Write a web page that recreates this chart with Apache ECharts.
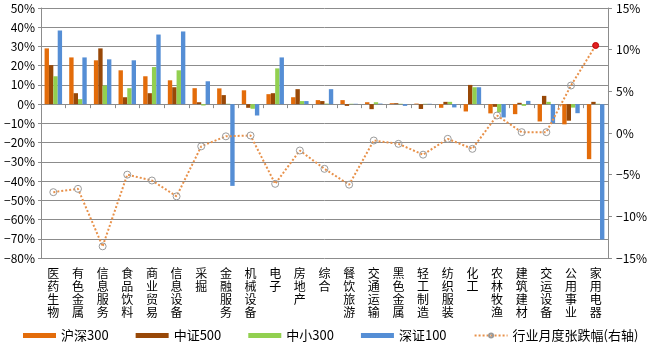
<!DOCTYPE html>
<html><head><meta charset="utf-8">
<script src="https://cdn.jsdelivr.net/npm/echarts@6/dist/echarts.min.js"></script>
<style>html,body{margin:0;padding:0;background:#fff}#c{width:650px;height:348px}</style>
</head><body><div id="c"></div>
<script>
const categories = ['医药生物','有色金属','信息服务','食品饮料','商业贸易','信息设备','采掘','金融服务','机械设备','电子','房地产','综合','餐饮旅游','交通运输','黑色金属','轻工制造','纺织服装','化工','农林牧渔','建筑建材','交运设备','公用事业','家用电器'];
const hs300 = [29.0, 24.3, 22.8, 17.6, 14.5, 12.4, 8.3, 8.2, 7.2, 5.2, 3.6, 2.1, 2.1, 1.0, 0.5, 0.3, -1.9, -3.8, -4.8, -5.2, -9.0, -10.5, -28.6];
const zz500 = [20.3, 5.7, 29.0, 3.6, 5.7, 8.8, 1.0, 4.7, -1.9, 5.7, 7.8, 1.6, -0.9, -2.6, 0.5, -2.5, 1.2, 10.0, -1.4, 0.7, 4.3, -8.6, 1.2];
const zx300 = [14.5, 2.6, 9.7, 8.3, 19.3, 17.6, -0.7, 0.2, -2.4, 18.6, 1.6, 0.3, 0.2, 1.0, 0.2, 0.2, 1.2, 8.8, -4.3, -0.9, 1.2, -1.8, 0.2];
const sz100 = [38.3, 24.3, 23.3, 22.8, 36.2, 37.8, 11.9, -42.5, -5.9, 24.3, 1.6, 7.8, 0.2, 0.3, -0.9, 0.2, -1.7, 8.8, -6.9, 1.7, -9.9, -4.7, -70.4];
const industry = [-7.1, -6.7, -13.6, -5.0, -5.7, -7.6, -1.6, -0.4, -0.3, -6.1, -2.1, -4.3, -6.2, -0.9, -1.3, -2.6, -0.7, -1.9, 2.1, 0.1, 0.1, 5.7, 10.5];
const seriesNames = ['沪深300','中证500','中小300','深证100','行业月度张跌幅(右轴)'];
const colors = ['#E36C0A','#984807','#92D050','#558ED5'];

const chart = echarts.init(document.getElementById('c'), null, {renderer:'canvas'});
const fontFam = '"Noto Sans CJK SC", "DejaVu Sans", sans-serif';
const pct = v => (v < 0 ? '\u2212' + (-v) : v) + '%';
const grey = '#8C8C8C';
function bar(i, data){
  return {name: seriesNames[i], type:'bar', data: data, xAxisIndex:0, yAxisIndex:0,
    barGap:'0%', barCategoryGap:'29%', itemStyle:{color: colors[i]}};
}
const lineData = industry.map((v, i) => i === industry.length - 1
  ? {value: v, itemStyle:{color:'#E02020', borderColor:'#C00000'}, symbolSize:6}
  : v);
chart.setOption({
  animation:false,
  textStyle:{fontFamily: fontFam},
  grid:{left:41, right:38, top:8, bottom:90},
  legend:{bottom:1, left:18, itemWidth:33, itemHeight:5, itemGap:27,
    textStyle:{fontSize:13, color:'#000', fontFamily: fontFam},
    data:[{name:seriesNames[0], icon:'rect'},{name:seriesNames[1], icon:'rect'},{name:seriesNames[2], icon:'rect'},{name:seriesNames[3], icon:'rect'},{name:seriesNames[4]}]},
  xAxis:[
    {type:'category', data:categories, position:'bottom',
      axisLine:{show:false, onZero:false}, axisTick:{show:false},
      axisLabel:{interval:0, fontSize:12, color:'#000', lineHeight:13, margin:9,
        formatter: v => v.split('').join('\n')}},
    {type:'category', data:categories, position:'bottom',
      axisLine:{show:true, onZero:true, onZeroAxisIndex:0, lineStyle:{color:grey, width:1}},
      axisTick:{show:true, length:4, interval:0, lineStyle:{color:grey}},
      axisLabel:{show:false}}
  ],
  yAxis:[
    {type:'value', min:-80, max:50, interval:10, position:'left',
      axisLine:{show:true, lineStyle:{color:grey}}, axisTick:{show:true, length:3, lineStyle:{color:grey}},
      axisLabel:{formatter: pct, fontSize:12, color:'#000', margin:6},
      splitLine:{show:true, lineStyle:{color:grey, width:1}}},
    {type:'value', min:-15, max:15, interval:5, position:'right',
      axisLine:{show:true, lineStyle:{color:grey}}, axisTick:{show:true, length:4, lineStyle:{color:grey}},
      axisLabel:{formatter: pct, fontSize:12, color:'#000', margin:8},
      splitLine:{show:false}}
  ],
  series:[
    bar(0, hs300), bar(1, zz500), bar(2, zx300), bar(3, sz100),
    {name: seriesNames[4], type:'line', data: lineData, xAxisIndex:0, yAxisIndex:1,
      symbol:'circle', symbolSize:7, z:5,
      lineStyle:{color:'#E8914A', width:2, type:'dotted'},
      itemStyle:{color:'rgba(255,255,255,0)', borderColor:'#9A9A9A', borderWidth:1}}
  ]
});
</script></body></html>
